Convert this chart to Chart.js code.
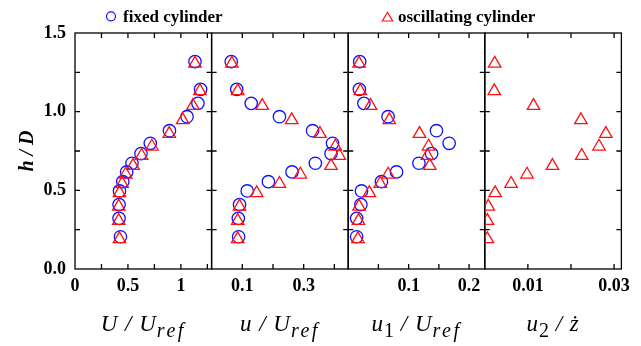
<!DOCTYPE html>
<html><head><meta charset="utf-8">
<script src="https://cdn.jsdelivr.net/npm/chart.js@4.4.0/dist/chart.umd.min.js"></script>
<style>html,body{margin:0;padding:0;background:#fff;}#wrap{width:641px;height:346px;position:relative}</style>
</head><body><div id="wrap"><canvas id="c" width="641" height="346"></canvas></div>
<script>
// ---- data (h/D heights and the four profile quantities) ----
const hFixed = [1.318,1.142,1.053,0.968,0.879,0.799,0.733,0.672,0.617,0.555,0.496,0.409,0.322,0.205];
const hOsc   = [1.306,1.131,1.037,0.947,0.859,0.779,0.720,0.656,0.601,0.542,0.483,0.397,0.306,0.190];
const UFixed  = [1.133,1.186,1.161,1.058,0.892,0.711,0.623,0.538,0.488,0.451,0.420,0.416,0.416,0.429];
const UOsc    = [1.133,1.180,1.114,1.017,0.890,0.726,0.629,0.548,0.479,0.445,0.420,0.413,0.413,0.420];
const uFixed  = [0.064,0.082,0.129,0.221,0.329,0.394,0.389,0.338,0.262,0.185,0.116,0.091,0.087,0.088];
const uOsc    = [0.066,0.085,0.165,0.261,0.353,0.403,0.416,0.389,0.289,0.221,0.147,0.091,0.085,0.085];
const u1Fixed = [0.019,0.0185,0.026,0.066,0.146,0.167,0.138,0.117,0.080,0.055,0.022,0.021,0.014,0.014];
const u1Osc   = [0.018,0.020,0.037,0.068,0.118,0.133,0.131,0.135,0.066,0.053,0.035,0.018,0.017,0.016];
const u2Osc   = [0.0023,0.0022,0.0113,0.0223,0.0281,0.0265,0.0225,0.0157,0.0098,0.0061,0.0024,0.0008,0.0006,0.0006];

// ---- ticks ----
const yTicks = [0,0.25,0.5,0.75,1,1.25,1.5];
const yTickLabels = ['0.0','','0.5','','1.0','','1.5'];
const x1Ticks = [0,0.25,0.5,0.75,1,1.25];   const x1Labels = ['0','','0.5','','1',''];
const x2Ticks = [0.1,0.2,0.3,0.4];          const x2Labels = ['0.1','','0.3',''];
const x3Ticks = [0.05,0.1,0.15,0.2];        const x3Labels = ['','0.1','','0.2'];
const x4Ticks = [0.01,0.02,0.03];           const x4Labels = ['0.01','','0.03'];
const seriesNames = ['fixed cylinder','oscillating cylinder'];

const SERIF = '"Liberation Serif","Times New Roman",serif';
const BLUE = '#1010ff', RED = '#ff1010';
const zip = (xs, ys) => xs.map((x,i)=>({x, y: ys[i]}));

function fixedSet(xs, axis){ return {label:seriesNames[0], data:zip(xs,hFixed), xAxisID:axis, yAxisID:'y',
  pointStyle:'circle', pointRadius:6.2, borderColor:BLUE, backgroundColor:'rgba(0,0,0,0)', borderWidth:1.3, order:1}; }
function oscSet(xs, axis){ return {label:seriesNames[1], data:zip(xs,hOsc), xAxisID:axis, yAxisID:'y',
  pointStyle:'triangle', pointRadius:7.2, borderColor:RED, backgroundColor:'rgba(0,0,0,0)', borderWidth:1.3, order:0}; }

function xScale(min, max, ticks, labels){
  return {type:'linear', position:'bottom', stack:'panels', stackWeight:1, min, max,
    grid:{display:false, drawTicks:false}, border:{display:false},
    afterBuildTicks: s => { s.ticks = ticks.map(v=>({value:v})); },
    afterFit: s => { s.height = 77; },
    ticks:{autoSkip:false, maxRotation:0, minRotation:0, padding:7, color:'#000',
      font:{family:SERIF, size:18, weight:'bold'}, callback:(v,i)=>labels[i]}};
}

const axisTitles = [
  [['U','i'],[' / ','i'],['U','i'],['ref','s']],
  [['u','i'],[' / ','i'],['U','i'],['ref','s']],
  [['u','i'],['1','n'],[' / ','i'],['U','i'],['ref','s']],
  [['u','i'],['2','n'],[' / ','i'],['ż','i']]
];

const framePlugin = {
  id:'frame',
  beforeDatasetsDraw(chart){
    const {ctx, chartArea:{top,bottom}} = chart;
    const ys = chart.scales.y;
    ctx.save(); ctx.strokeStyle='#000'; ctx.lineWidth=1.3;
    ['x1','x2','x3','x4'].forEach(id=>{
      const s = chart.scales[id], l=s.left, r=s.right;
      ctx.strokeRect(l, top, r-l, bottom-top);
      ctx.beginPath();
      s.ticks.forEach(t=>{ const x=s.getPixelForValue(t.value); if(x<=l+1||x>=r-1) return;
        ctx.moveTo(x,bottom); ctx.lineTo(x,bottom-5); ctx.moveTo(x,top); ctx.lineTo(x,top+5); });
      ys.ticks.forEach(t=>{ const y=ys.getPixelForValue(t.value); if(y<=top+1||y>=bottom-1) return;
        ctx.moveTo(l,y); ctx.lineTo(l+5,y); ctx.moveTo(r,y); ctx.lineTo(r-5,y); });
      ctx.stroke();
    });
    ctx.restore();
  },
  afterDraw(chart){
    const {ctx, chartArea} = chart;
    ctx.save(); ctx.fillStyle='#000'; ctx.textBaseline='alphabetic';
    // x-axis titles
    ['x1','x2','x3','x4'].forEach((id,k)=>{
      const s = chart.scales[id];
      const segs = axisTitles[k];
      const fontOf = t => t==='i' ? `italic 23px ${SERIF}` : t==='s' ? `italic 20px ${SERIF}` : `20px ${SERIF}`;
      const spacing = t => t==='s' ? '2.5px' : (t==='i' ? '1px' : '0px');
      let w=0; segs.forEach(([txt,t])=>{ ctx.font=fontOf(t); ctx.letterSpacing=spacing(t); w+=ctx.measureText(txt).width; });
      let x = (s.left+s.right)/2 - w/2; const base = 331;
      segs.forEach(([txt,t])=>{ ctx.font=fontOf(t); ctx.letterSpacing=spacing(t); ctx.textAlign='left';
        ctx.fillText(txt, x, t==='i'?base:base+6); x+=ctx.measureText(txt).width; });
    });
    ctx.letterSpacing='0px';
    // y title
    ctx.save(); ctx.translate(28,(chartArea.top+chartArea.bottom)/2); ctx.rotate(-Math.PI/2);
    ctx.font=`italic bold 20px ${SERIF}`; ctx.textAlign='center'; ctx.textBaseline='middle';
    ctx.fillText('h / D',0,0); ctx.restore();
    // legend
    const items = [{ds:1, mx:111, tx:123}, {ds:0, mx:387.5, tx:398}];
    items.forEach(it=>{
      const d = chart.data.datasets[it.ds];
      ctx.strokeStyle=d.borderColor; ctx.lineWidth=1.2; ctx.beginPath();
      if(d.pointStyle==='circle'){ ctx.arc(it.mx,16.3,4.5,0,Math.PI*2); }
      else { ctx.moveTo(it.mx,12.3); ctx.lineTo(it.mx+5.2,21); ctx.lineTo(it.mx-5.2,21); ctx.closePath(); }
      ctx.stroke();
      ctx.fillStyle='#000'; ctx.font=`bold 17px ${SERIF}`; ctx.textAlign='left'; ctx.textBaseline='alphabetic';
      ctx.fillText(d.label, it.tx, 21.7);
    });
    ctx.restore();
  }
};

new Chart(document.getElementById('c'), {
  type:'scatter',
  data:{datasets:[
    oscSet(UOsc,'x1'), fixedSet(UFixed,'x1'),
    oscSet(uOsc,'x2'), fixedSet(uFixed,'x2'),
    oscSet(u1Osc,'x3'), fixedSet(u1Fixed,'x3'),
    oscSet(u2Osc,'x4')
  ]},
  options:{
    responsive:false, animation:false, events:[],
    layout:{padding:{top:33, right:16.5, bottom:0, left:0}},
    plugins:{legend:{display:false}, tooltip:{enabled:false}},
    scales:{
      y:{type:'linear', position:'left', min:0, max:1.5,
        grid:{display:false, drawTicks:false}, border:{display:false},
        afterBuildTicks: s => { s.ticks = yTicks.map(v=>({value:v})); },
        afterFit: s => { s.width = 75; },
        ticks:{padding:9, color:'#000', font:{family:SERIF, size:18, weight:'bold'}, callback:(v,i)=>yTickLabels[i]}},
      x1: xScale(0, 1.29, x1Ticks, x1Labels),
      x2: xScale(0, 0.445, x2Ticks, x2Labels),
      x3: xScale(0, 0.226, x3Ticks, x3Labels),
      x4: xScale(0, 0.0317, x4Ticks, x4Labels)
    }
  },
  plugins:[framePlugin]
});
</script></body></html>
